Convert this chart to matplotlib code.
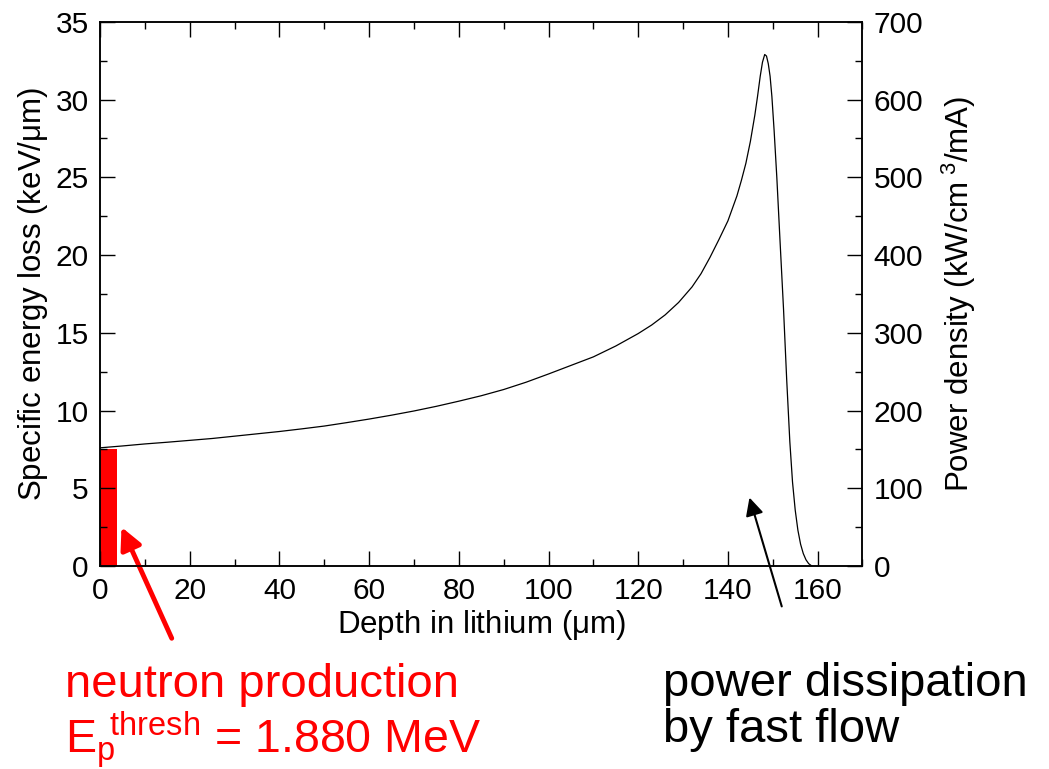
import matplotlib
matplotlib.use("Agg")
import matplotlib.pyplot as plt
from matplotlib.ticker import MultipleLocator

plt.rcParams['font.family'] = ['Liberation Sans', 'DejaVu Sans']
plt.rcParams['mathtext.fontset'] = 'custom'
plt.rcParams['mathtext.rm'] = 'Liberation Sans'
plt.rcParams['mathtext.it'] = 'Liberation Sans'

# stopping curve (depth in um, keV/um)
depth = [0, 5, 10, 15, 20, 25, 30, 35, 40, 45, 50, 55, 60, 65, 70, 75,
         80, 85, 90, 95, 100, 105, 110, 115, 120, 123, 126, 129, 132, 134,
         136, 138, 140, 141, 142, 143, 144, 145, 146, 146.6, 147.2, 147.7,
         148.2, 148.6, 149.0, 149.4, 149.8, 150.3, 150.9, 151.6, 152.4,
         153.1, 153.8, 154.4, 155.0, 155.6, 156.2, 156.8, 157.4, 158.0,
         158.7]
dedx = [7.6, 7.72, 7.85, 7.96, 8.08, 8.2, 8.35, 8.5, 8.65, 8.82, 9.0,
        9.22, 9.45, 9.7, 9.97, 10.27, 10.6, 10.95, 11.35, 11.82, 12.35,
        12.9, 13.45, 14.15, 14.95, 15.5, 16.15, 16.95, 17.95, 18.8, 19.85,
        21.0, 22.2, 23.0, 23.8, 24.8, 25.9, 27.3, 29.0, 30.2, 31.5, 32.4,
        32.9, 32.8, 32.3, 31.5, 30.2, 28.0, 25.0, 21.0, 16.5, 12.0, 8.0,
        5.4, 3.6, 2.3, 1.4, 0.8, 0.4, 0.15, 0.0]

# neutron production zone (above threshold energy)
prod_depth = [0.0]
prod_width = [3.7]
prod_height = [7.5]

power_per_kev = 20.0  # kW/cm3/mA per keV/um


def style_axis(ax):
    ax.tick_params(direction='in', length=11, width=1.0, labelsize=21.5,
                   pad=8, colors='black')
    ax.tick_params(which='minor', direction='in', length=5, width=1.0)
    for s in ax.spines.values():
        s.set_linewidth(1.1)


def main():
    fig = plt.figure(figsize=(10.49, 7.69), dpi=100)
    ax = fig.add_axes([0.0953, 0.264, 0.7269, 0.7076])

    ax.bar(prod_depth, prod_height, width=prod_width, align='edge',
           color='#ff0000', linewidth=0)
    ax.plot(depth, dedx, color='black', lw=0.9)

    ax.set_xlim(0, 170)
    ax.set_ylim(0, 35)
    ax.xaxis.set_major_locator(MultipleLocator(20))
    ax.xaxis.set_minor_locator(MultipleLocator(10))
    ax.yaxis.set_major_locator(MultipleLocator(5))
    ax.yaxis.set_minor_locator(MultipleLocator(2.5))
    ax.tick_params(which='both', top=True)
    style_axis(ax)
    ax.set_xlabel(r'Depth in lithium ($\mu$m)', fontsize=22.5, labelpad=2)
    ax.set_ylabel(r'Specific energy loss (keV/$\mu$m)', fontsize=22.5,
                  labelpad=4)

    ax2 = ax.twinx()
    ax2.set_ylim(0, 35 * power_per_kev)
    ax2.yaxis.set_major_locator(MultipleLocator(100))
    ax2.yaxis.set_minor_locator(MultipleLocator(50))
    style_axis(ax2)
    ax2.set_ylabel(r'Power density (kW/cm$^{\ 3}$/mA)', fontsize=22.5,
                   labelpad=12)

    # arrows pointing into the plot
    ax.annotate('', xy=(4.8, 2.5), xytext=(16.0, -4.65),
                xycoords='data', textcoords='data', annotation_clip=False,
                arrowprops=dict(arrowstyle='-|>,head_length=0.5,head_width=0.25',
                                mutation_scale=26, lw=3.5, color='#ff0000',
                                shrinkA=0, shrinkB=0))
    ax.annotate('', xy=(144.8, 4.4), xytext=(152.0, -2.6),
                xycoords='data', textcoords='data', annotation_clip=False,
                arrowprops=dict(arrowstyle='-|>,head_length=0.4,head_width=0.2',
                                mutation_scale=27, lw=1.5, color='black',
                                shrinkA=0, shrinkB=0))

    fig.text(0.062, 0.094, 'neutron production', color='#ff0000',
             fontsize=34, va='baseline', ha='left')
    fig.text(0.062, 0.0204,
             r'E$_{\mathrm{p}}\!$$^{\mathrm{thresh}}$ = 1.880 MeV',
             color='#ff0000', fontsize=33.5, va='baseline', ha='left')
    fig.text(0.632, 0.0949, 'power dissipation', color='black',
             fontsize=34, va='baseline', ha='left')
    fig.text(0.632, 0.0355, 'by fast flow', color='black',
             fontsize=34, va='baseline', ha='left')

    fig.savefig('out.png', dpi=100)


if __name__ == '__main__':
    main()
